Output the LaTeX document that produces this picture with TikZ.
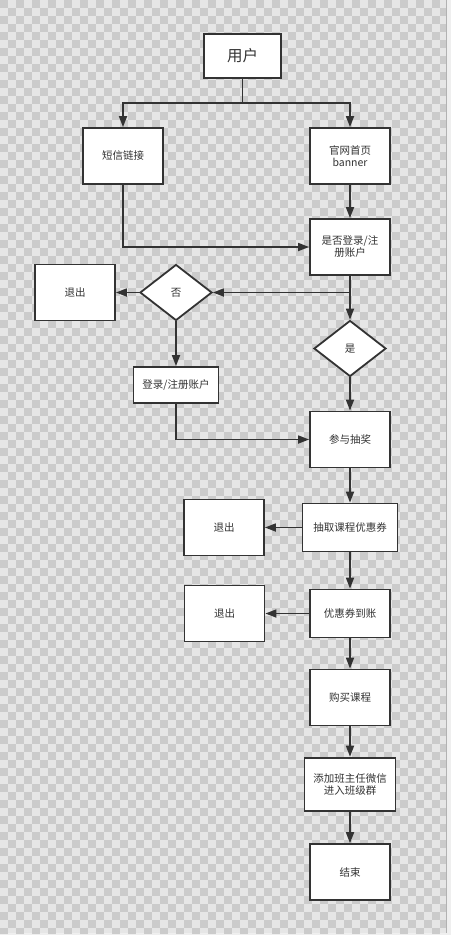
\documentclass[tikz,border=0pt]{standalone}
\usepackage{fontspec}
\newfontfamily\cjk{Noto Sans CJK SC}
\usetikzlibrary{shapes.geometric,arrows.meta,positioning}
\definecolor{linegray}{HTML}{333333}
\definecolor{chkdark}{HTML}{CBCBCB}
\definecolor{chklight}{HTML}{E6E6E6}
\definecolor{edgegray}{HTML}{EFEFEF}

\begin{document}
\begin{tikzpicture}[x=1pt,y=-1pt,on grid,>={Triangle[length=11pt,width=8pt]},
    box/.style={draw=linegray,line width=1.8pt,fill=white,minimum width=80pt,minimum height=56pt,
        inner sep=2pt,align=center,text=linegray,font=\cjk\fontsize{10.5}{12}\selectfont},
    choice/.style={box,diamond,minimum width=72pt,minimum height=56pt,inner sep=0pt},
    line/.style={draw=linegray,line width=1.7pt}]
    \useasboundingbox[fill=edgegray] (0,0) rectangle (451,935);
    \begin{scope}
        \clip (0,0) rectangle (446,933);
        \fill[chklight] (0,0) rectangle (446,933);
        \foreach \r in {0,...,116} {
            \pgfmathtruncatemacro\off{mod(\r,2)*8}
            \foreach \c in {0,16,...,432}
                \fill[chkdark] (\c+\off,\r*8) rectangle ++(8,8);
        }
    \end{scope}
    \draw[gray!60,line width=0.8pt] (446.4,0) -- (446.4,933);

    \node[box,minimum width=77pt,minimum height=44pt,font=\cjk\fontsize{15.5}{18}\selectfont] (user) at (242.5,56) {用户};
    \node[box] (home) at (350,156) {官网首页\\banner};
    \node[box] [left=227pt of home] (sms) {短信链接};
    \node[box] [below=91pt of home] (ask) {是否登录/注\\册账户};
    \node[choice] (no) at (176,292.5) {否};
    \node[box] [left=101pt of no] (quit_1) {退出};
    \node[box,minimum width=85pt,minimum height=36pt] [below=92.5pt of no] (reg) {登录/注册账户};
    \node[choice] [below=101.5pt of ask] (yes) {是};
    \node[box] [below=91pt of yes] (join) {参与抽奖};
    \node[box,minimum width=95pt,minimum height=48pt] [below=88pt of join] (pick) {抽取课程优惠券};
    \node[box] [left=126pt of pick] (quit_2) {退出};
    \node[box,minimum height=48pt] [below=86pt of pick] (got) {优惠券到账};
    \node[box] [left=125.5pt of got] (quit_3) {退出};
    \node[box] [below=84pt of got] (buy) {购买课程};
    \node[box,minimum width=91pt,minimum height=53pt] [below=86.6pt of buy] (wechat) {添加班主任微信\\进入班级群};
    \node[box] [below=88pt of wechat] (fin) {结束};
    \coordinate (split) at (242.5,103);

    \draw[line] (user) -- (split);
    \draw[line,->] (split) -| (sms);
    \draw[line,->] (split) -| (home);
    \draw[line,->] (home) -- (ask);
    \draw[line,->] (sms) |- (ask);
    \draw[line,->] (ask) |- (no);
    \draw[line,->] (ask) -- (yes);
    \draw[line,->] (no) -- (quit_1);
    \draw[line,->] (no) -- (reg);
    \draw[line,->] (reg) |- (join);
    \draw[line,->] (yes) -- (join);
    \draw[line,->] (join) -- (pick);
    \draw[line,->] (pick) -- (quit_2);
    \draw[line,->] (pick) -- (got);
    \draw[line,->] (got) -- (quit_3);
    \draw[line,->] (got) -- (buy);
    \draw[line,->] (buy) -- (wechat);
    \draw[line,->] (wechat) -- (fin);
\end{tikzpicture}
\end{document}
